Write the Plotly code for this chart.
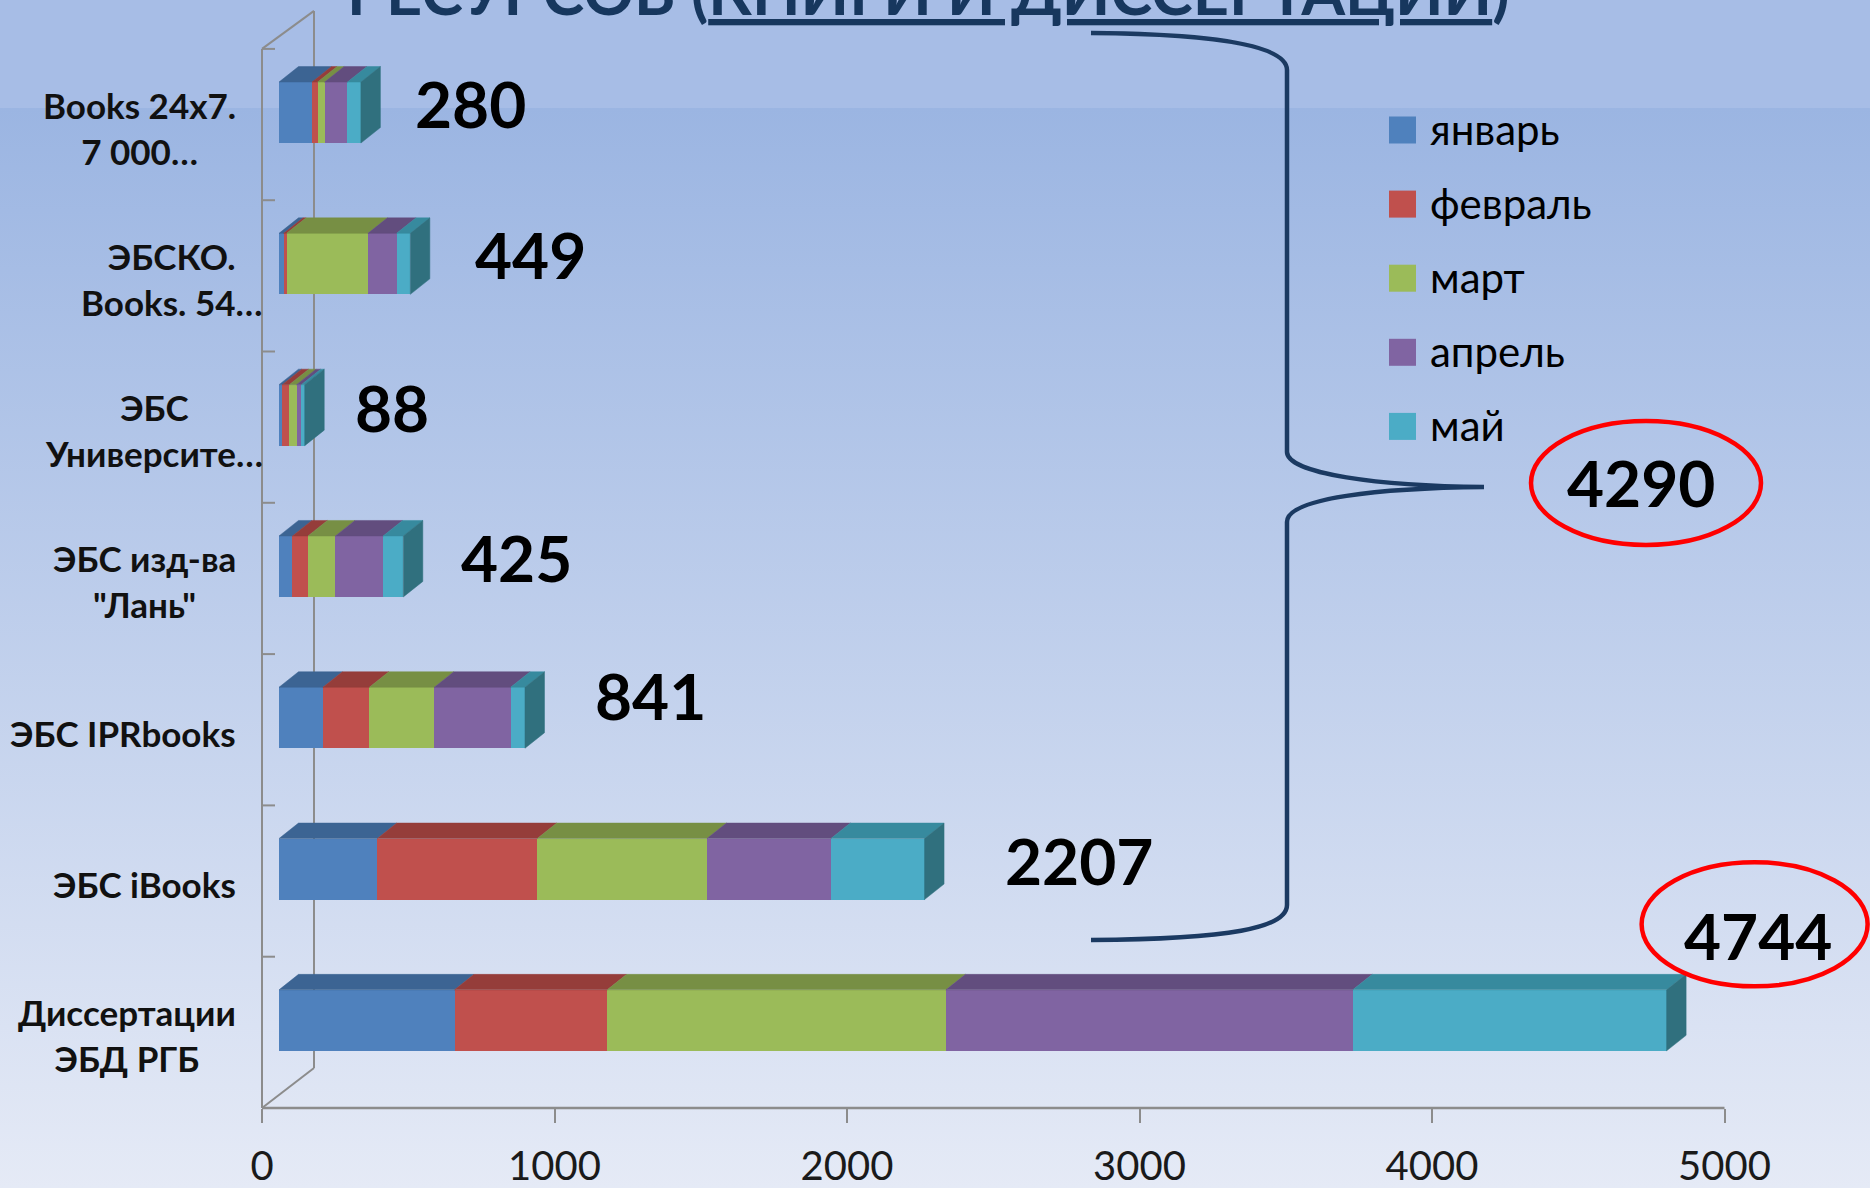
import plotly.graph_objects as go

# ---------------- data ----------------
categories = ["Диссертации ЭБД РГБ", "ЭБС iBooks", "ЭБС IPRbooks", "ЭБС изд-ва \"Лань\"",
              "ЭБС Университе…", "ЭБСКО. Books. 54…", "Books 24x7. 7 000…"]
category_labels = ["Диссертации<br>ЭБД РГБ", "ЭБС iBooks", "ЭБС IPRbooks", "ЭБС изд-ва<br>\"Лань\"",
                   "ЭБС<br>Университе…", "ЭБСКО.<br>Books. 54…", "Books 24x7.<br>7 000…"]
months = ["январь", "февраль", "март", "апрель", "май"]
jan = [600, 336, 150, 46, 11, 16, 113]
feb = [522, 547, 159, 53, 24, 10, 19]
mar = [1158, 580, 222, 94, 25, 278, 24]
apr = [1391, 424, 261, 163, 16, 98, 78]
may = [1073, 320, 49, 69, 12, 47, 46]
x_ticks = [0, 1000, 2000, 3000, 4000, 5000]
title_text = "<b>РЕСУРСОВ (<u>КНИГИ И ДИССЕРТАЦИИ</u>)</b>"

series = [jan, feb, mar, apr, may]
totals = [sum(v) for v in zip(*series)]
others_total = sum(totals[1:])

# ---------------- styles / geometry (pixels) ----------------
W, H = 1870, 1188
FRONT = ["#4F81BD", "#C0504D", "#9BBB59", "#8064A2", "#4BACC6"]
TOP = ["#3C6493", "#953D3A", "#778F44", "#624D7E", "#378A9E"]
SIDE = "#30707E"
GRID = "#8C8C8C"
FONT = "Lato"

PXU = 0.2925          # pixels per unit
BAR_X0 = 279          # pixel of value 0 in the bar plane
AXIS_X0 = 262         # pixel of value 0 on the floor axis
BACK_X = 314
FLOOR_Y = 1108
CAT_STEP = 151.3
BAR_LIFT = 12
BAR_W = 0.403
DX_PX, DY_PX = 19.5, 15.5
BAND_Y = 108

n = len(categories)
bar_center_px = FLOOR_Y - CAT_STEP / 2 - BAR_LIFT   # pixel of category index 0
y2_range = [(bar_center_px - H) / CAT_STEP, bar_center_px / CAT_STEP]
x2_range = [-BAR_X0 / PXU, (W - BAR_X0) / PXU]
x3_range = [-AXIS_X0 / PXU, (W - AXIS_X0) / PXU]
DX = DX_PX / PXU
DY = DY_PX / CAT_STEP

fig = go.Figure()

# background gradient (pixel axes x/y)
fig.add_trace(go.Scatter(
    x=[0, W, W, 0, 0], y=[BAND_Y, BAND_Y, H, H, BAND_Y], mode="lines", fill="toself",
    line=dict(width=0), hoverinfo="skip", showlegend=False,
    fillgradient=dict(type="vertical", start=BAND_Y, stop=H,
                      colorscale=[[0, "#9BB5E2"], [1, "#E5EAF6"]])))

# 3D frame lines
cat_bounds = [FLOOR_Y - CAT_STEP * k for k in range(n + 1)]
top_y = cat_bounds[-1]
back_top = top_y - 38
back_bot = FLOOR_Y - 40
fx, fy = [], []
for seg in [((AXIS_X0, top_y), (AXIS_X0, FLOOR_Y)),
            ((BACK_X, back_top), (BACK_X, back_bot)),
            ((AXIS_X0, top_y), (BACK_X, back_top)),
            ((AXIS_X0, FLOOR_Y), (BACK_X, back_bot))]:
    fx += [seg[0][0], seg[1][0], None]
    fy += [seg[0][1], seg[1][1], None]
for b in cat_bounds:
    fx += [AXIS_X0, AXIS_X0 + 13, None]
    fy += [b, b, None]
fig.add_trace(go.Scatter(x=fx, y=fy, mode="lines", line=dict(color=GRID, width=2),
                         hoverinfo="skip", showlegend=False))

# legend markers
LEG_X, LEG_Y0, LEG_STEP = 1402.5, 130, 74.1
for j, m in enumerate(months):
    fig.add_trace(go.Scatter(x=[LEG_X], y=[LEG_Y0 + LEG_STEP * j], mode="markers",
                             marker=dict(symbol="square", size=27, color=FRONT[j], line=dict(width=0)),
                             hoverinfo="skip", showlegend=False))

# floor axis line (on tick axis)
fig.add_trace(go.Scatter(x=[x_ticks[0], x_ticks[-1]], y=[FLOOR_Y, FLOOR_Y], mode="lines",
                         line=dict(color=GRID, width=2.5), xaxis="x3", yaxis="y",
                         hoverinfo="skip", showlegend=False))

# bars
idx = list(range(n))
for j, m in enumerate(months):
    fig.add_trace(go.Bar(x=series[j], y=idx, orientation="h", width=BAR_W, name=m,
                         marker=dict(color=FRONT[j], line=dict(width=0)),
                         xaxis="x2", yaxis="y2", showlegend=False))

# top faces
cum = [0] * n
for j in range(len(months)):
    px_, py_ = [], []
    for i in range(n):
        a = cum[i]
        b = a + series[j][i]
        yt = i + BAR_W / 2
        px_ += [a, b, b + DX, a + DX, a, None]
        py_ += [yt, yt, yt + DY, yt + DY, yt, None]
        cum[i] = b
    fig.add_trace(go.Scatter(x=px_, y=py_, mode="lines", fill="toself", fillcolor=TOP[j],
                             line=dict(width=0.5, color=TOP[j]), xaxis="x2", yaxis="y2",
                             hoverinfo="skip", showlegend=False))
# side faces
sx, sy = [], []
for i in range(n):
    t = totals[i]
    y0, y1 = i - BAR_W / 2, i + BAR_W / 2
    sx += [t, t, t + DX, t + DX, t, None]
    sy += [y0, y1, y1 + DY, y0 + DY, y0, None]
fig.add_trace(go.Scatter(x=sx, y=sy, mode="lines", fill="toself", fillcolor=SIDE,
                         line=dict(width=0.5, color=SIDE), xaxis="x2", yaxis="y2",
                         hoverinfo="skip", showlegend=False))

annotations = []
# category labels
label_right = [238, 238, 238, 238, 265, 265, 238]
for i, lab in enumerate(category_labels):
    cy = FLOOR_Y - CAT_STEP * (i + 0.5) + 3
    annotations.append(dict(x=label_right[i], y=cy, xref="x", yref="y", text=lab, showarrow=False,
                            xanchor="right", yanchor="middle", align="center",
                            font=dict(family=FONT, size=35, color="#111111", weight="bold")))

# value labels (center offsets from bar end, pixels)
val_dx = [91, 154, 126, 113, 87, 120, 110]
val_dy = [-85, -8.5, -22.5, -8.5, -8, -9, -9]
for i in range(n):
    annotations.append(dict(x=totals[i], y=i, xref="x2", yref="y2", text="<b>%d</b>" % totals[i],
                            showarrow=False, xanchor="center", yanchor="middle",
                            xshift=val_dx[i], yshift=-val_dy[i],
                            font=dict(family=FONT, size=64, color="#000000")))
# sum of the other resources
SUM_CX, SUM_CY = 1641, 482.5
annotations.append(dict(x=SUM_CX, y=SUM_CY, xref="x", yref="y", text="<b>%d</b>" % others_total,
                        showarrow=False, xanchor="center", yanchor="middle",
                        font=dict(family=FONT, size=64, color="#000000")))

# legend texts
for j, m in enumerate(months):
    annotations.append(dict(x=1428, y=LEG_Y0 + LEG_STEP * j - 1.5, xref="x", yref="y", text=m,
                            showarrow=False, xanchor="left", yanchor="middle",
                            font=dict(family=FONT, size=42, color="#000000")))

# title (cut at the top edge, as in the reference)
annotations.append(dict(x=345, y=30, xref="x", yref="y", text=title_text, showarrow=False,
                        xanchor="left", yanchor="bottom",
                        font=dict(family=FONT, size=63, color="#17375E")))

# shapes: brace and red ellipses
brace = ("M 1091,33 C 1230,34 1287,48 1287,70 L 1287,452 C 1287,474 1380,486 1484,487 "
         "C 1380,488 1287,498 1287,522 L 1287,905 C 1287,928 1230,939 1091,940")
d_px = BAR_X0 + PXU * totals[0] + val_dx[0]
d_py = bar_center_px + val_dy[0]
shapes = [
    dict(type="path", path=brace, xref="x", yref="y", line=dict(color="#1B3A62", width=4.5)),
    dict(type="circle", xref="x", yref="y", x0=1531, x1=1761, y0=421, y1=545,
         line=dict(color="#FF0000", width=4.5)),
    dict(type="circle", xref="x", yref="y", x0=d_px - 116, x1=d_px + 110, y0=d_py - 73, y1=d_py + 51,
         line=dict(color="#FF0000", width=4.5)),
]

hidden = dict(showgrid=False, zeroline=False, showticklabels=False, ticks="", showline=False,
              automargin=False)
fig.update_layout(
    width=W, height=H, margin=dict(l=0, r=0, t=0, b=0, pad=0, autoexpand=False),
    paper_bgcolor="#A7BDE6", plot_bgcolor="rgba(0,0,0,0)",
    barmode="stack", bargap=0, showlegend=False,
    xaxis=dict(range=[0, W], domain=[0, 1], **hidden),
    yaxis=dict(range=[H, 0], domain=[0, 1], **hidden),
    xaxis2=dict(range=x2_range, domain=[0, 1], overlaying="x", anchor="y2", **hidden),
    yaxis2=dict(range=y2_range, domain=[0, 1], overlaying="y", anchor="x2", **hidden),
    xaxis3=dict(range=x3_range, domain=[0, 1], overlaying="x", anchor="free",
                position=1 - FLOOR_Y / H, side="bottom", tickmode="array", tickvals=x_ticks,
                ticks="outside", ticklen=14, tickwidth=2, tickcolor=GRID, showline=False,
                showgrid=False, zeroline=False, ticklabelstandoff=9, automargin=False,
                tickfont=dict(family=FONT, size=40, color="#1A1A1A")),
    annotations=annotations, shapes=shapes,
)

fig.write_html("out.html", config={"displayModeBar": False},
               post_script="document.body.style.margin='0';document.body.style.overflow='hidden';")
